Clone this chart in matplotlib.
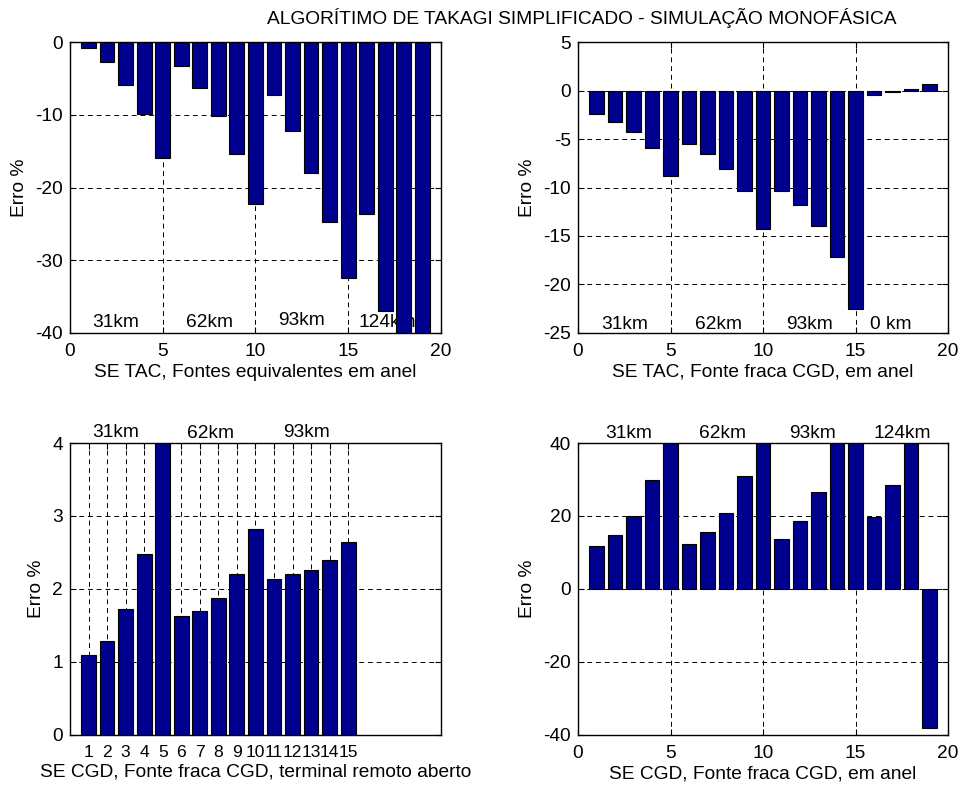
import matplotlib

matplotlib.use("Agg")
import matplotlib.pyplot as plt
import numpy as np

plt.rcParams["font.family"] = ["Liberation Sans", "DejaVu Sans"]
plt.rcParams["axes.unicode_minus"] = False
FS = 13.8
BAR = "#00008f"

TITLE = "ALGORÍTIMO DE TAKAGI SIMPLIFICADO - SIMULAÇÃO MONOFÁSICA"

# SE TAC, fontes equivalentes em anel (bars 18 and 19 run past the axis floor)
err_tac_eq = [-0.8, -2.8, -5.9, -9.9, -16.0, -3.3, -6.3, -10.2, -15.4, -22.2,
              -7.3, -12.2, -18.0, -24.7, -32.4, -23.7, -37.0, -44.0, -48.0]
# SE TAC, fonte fraca CGD
err_tac_fraca = [-2.45, -3.2, -4.3, -5.95, -8.8, -5.5, -6.55, -8.05, -10.35, -14.3,
                 -10.35, -11.85, -14.0, -17.2, -22.5, -0.5, -0.2, 0.2, 0.65]
# SE CGD, terminal remoto aberto
err_cgd_aberto = [1.09, 1.29, 1.73, 2.48, 4.3, 1.63, 1.70, 1.87, 2.20, 2.82,
                  2.14, 2.20, 2.26, 2.40, 2.64]
# SE CGD, em anel
err_cgd_anel = [11.7, 14.9, 20.1, 29.8, 45.0, 12.4, 15.6, 20.8, 31.0, 45.0,
                13.6, 18.5, 26.7, 45.0, 45.0, 19.7, 28.6, 45.0, -38.2]

panels = [
    dict(vals=err_tac_eq, ylim=(-40, 0), yticks=[-40, -30, -20, -10, 0],
         xlabel="SE TAC, Fontes equivalentes em anel",
         labels=[(2.45, -38.6, "31km"), (7.55, -38.5, "62km"),
                 (12.5, -38.3, "93km"), (17.1, -38.5, "124km")]),
    dict(vals=err_tac_fraca, ylim=(-25, 5), yticks=[-25, -20, -15, -10, -5, 0, 5],
         xlabel="SE TAC, Fonte fraca CGD, em anel",
         labels=[(2.5, -24.1, "31km"), (7.6, -24.1, "62km"),
                 (12.5, -24.1, "93km"), (16.9, -24.1, "0 km")]),
    dict(vals=err_cgd_aberto, ylim=(0, 4), yticks=[0, 1, 2, 3, 4],
         xlabel="SE CGD, Fonte fraca CGD, terminal remoto aberto",
         labels=[(2.45, 4.14, "31km"), (7.6, 4.13, "62km"), (12.75, 4.15, "93km")]),
    dict(vals=err_cgd_anel, ylim=(-40, 40), yticks=[-40, -20, 0, 20, 40],
         xlabel="SE CGD, Fonte fraca CGD, em anel",
         labels=[(2.75, 42.6, "31km"), (7.8, 42.6, "62km"),
                 (12.7, 42.6, "93km"), (17.5, 42.6, "124km")]),
]

boxes = [[0.0728, 0.5769, 0.386, 0.3697], [0.6015, 0.5769, 0.385, 0.3697],
         [0.0728, 0.0661, 0.386, 0.371], [0.6015, 0.0661, 0.385, 0.371]]

fig = plt.figure(figsize=(9.61, 7.87), dpi=100)
for k, (p, box) in enumerate(zip(panels, boxes)):
    ax = fig.add_axes(box)
    x = np.arange(1, len(p["vals"]) + 1)
    ax.bar(x, p["vals"], width=0.8, color=BAR, edgecolor="black", linewidth=0.8, zorder=3)
    ax.set_xlim(0, 20)
    ax.set_ylim(*p["ylim"])
    ax.set_yticks(p["yticks"])
    if k == 2:
        ax.set_xticks(x)
    else:
        ax.set_xticks([0, 5, 10, 15, 20])
    ax.grid(True, color="black", linestyle=(0, (5, 4)), linewidth=0.7, zorder=0)
    ax.set_axisbelow(True)
    ax.tick_params(direction="in", length=4, labelsize=FS, top=True, right=True)
    ax.tick_params(axis="x", pad=7)
    ax.tick_params(axis="y", pad=5)
    if k == 2:
        # fifteen crowded integer labels
        ax.tick_params(axis="x", labelsize=FS - 1.2)
    ax.set_ylabel("Erro %", fontsize=FS, labelpad=5)
    ax.set_xlabel(p["xlabel"], fontsize=FS, labelpad=3)
    for tx, ty, s in p["labels"]:
        ax.text(tx, ty, s, fontsize=FS, ha="center", va="center", zorder=2,
                clip_on=False)
    for sp in ax.spines.values():
        sp.set_linewidth(1.0)
        sp.set_zorder(4)

fig.text(582 / 961, 1 - 18 / 787, TITLE, fontsize=FS, ha="center", va="center")

fig.savefig("out.png", dpi=100)
